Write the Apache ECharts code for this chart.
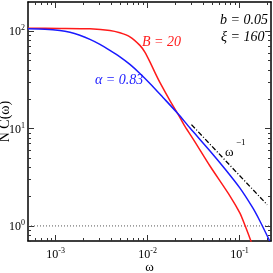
<!DOCTYPE html>
<html><head><meta charset="utf-8">
<script src="https://cdn.jsdelivr.net/npm/echarts@6/dist/echarts.min.js"></script>
<style>html,body{margin:0;padding:0;background:#fff}#c{width:273px;height:273px}</style>
</head><body><div id="c"></div>
<script>
// ---- data ----
const redOmega  = [5e-4, 1.11e-3, 2.36e-3, 3.89e-3, 5.0e-3, 6.42e-3, 8.25e-3, 9.37e-3, 1.06e-2, 1.20e-2, 1.36e-2, 1.75e-2, 2.25e-2, 2.54e-2, 3.26e-2, 4.75e-2, 7.85e-2, 0.1007, 0.1143, 0.1345];
const redValue  = [107.4, 107, 106, 102, 96.5, 87.8, 71.7, 60.8, 48.5, 37.8, 29.8, 19.4, 13.0, 10.6, 7.35, 4.15, 2.04, 1.36, 1.02, 0.68];
const blueOmega = [5e-4, 7.65e-4, 1.11e-3, 1.43e-3, 1.83e-3, 2.36e-3, 3.03e-3, 3.89e-3, 5.0e-3, 6.42e-3, 8.25e-3, 1.06e-2, 1.47e-2, 2.13e-2, 2.88e-2, 4.75e-2, 6.92e-2, 0.1007, 0.1395, 0.166, 0.213];
const blueValue = [106, 105, 102, 97.7, 91, 82.7, 73.5, 63.7, 54.6, 45.7, 36.9, 29.1, 20.9, 14.3, 10.2, 5.93, 3.87, 2.46, 1.53, 1.13, 0.70];
const guideOmega = [0.03, 0.2];
const guideValue = [11.0, 1.65];
const unitOmega = [5e-4, 0.22];
const unitValue = [1, 1];
const xMajorTicks = [1e-3, 1e-2, 1e-1];
const xMinorTicks = [6e-4,7e-4,8e-4,9e-4,2e-3,3e-3,4e-3,5e-3,6e-3,7e-3,8e-3,9e-3,2e-2,3e-2,4e-2,5e-2,6e-2,7e-2,8e-2,9e-2,0.2];
const yMajorTicks = [1, 10, 100];
const yMinorTicks = [0.7,0.8,0.9,2,3,4,5,6,7,8,9,20,30,40,50,60,70,80,90];
const xRange = [5e-4, 0.22];
const yRange = [0.7, 200];

const zip = (a, b) => a.map((v, i) => [v, b[i]]);
const FONT = 'Liberation Serif';
const supFmt = v => '{n|10}{s|' + Math.round(Math.log10(v)) + '}';
const rich = {
  n: {fontFamily: FONT, fontSize: 12, color: '#000', verticalAlign: 'bottom'},
  s: {fontFamily: FONT, fontSize: 8, color: '#000', verticalAlign: 'bottom', padding: [0, 0, 6, 0]}
};
function xAx(pos, ticks, len, labels, line) {
  return {type: 'log', logBase: 10, position: pos, min: xRange[0], max: xRange[1], gridIndex: 0,
    axisLine: {show: line, lineStyle: {color: '#000', width: 1.5}},
    axisTick: {show: true, inside: true, length: len, customValues: ticks, lineStyle: {color: '#333', width: 1}},
    axisLabel: labels ? {show: true, customValues: xMajorTicks, formatter: supFmt, rich: rich, margin: 6} : {show: false},
    splitLine: {show: false}, minorTick: {show: false}};
}
function yAx(pos, ticks, len, labels, line) {
  return {type: 'log', logBase: 10, position: pos, min: yRange[0], max: yRange[1], gridIndex: 0,
    axisLine: {show: line, lineStyle: {color: '#000', width: 1.5}},
    axisTick: {show: true, inside: true, length: len, customValues: ticks, lineStyle: {color: '#333', width: 1}},
    axisLabel: labels ? {show: true, customValues: yMajorTicks, formatter: supFmt, rich: rich, margin: 3} : {show: false},
    splitLine: {show: false}, minorTick: {show: false}};
}
const xs = [xAx('bottom', xMajorTicks, 6, true, true), xAx('bottom', xMinorTicks, 3, false, false),
            xAx('top', xMajorTicks, 6, false, true), xAx('top', xMinorTicks, 3, false, false)];
xs[0].name = 'ω'; xs[0].nameLocation = 'middle'; xs[0].nameGap = 20; xs[0].nameMoveOverlap = false;
xs[0].nameTextStyle = {fontFamily: FONT, fontSize: 13, color: '#000'};
const ys = [yAx('left', yMajorTicks, 6, true, true), yAx('left', yMinorTicks, 3, false, false),
            yAx('right', yMajorTicks, 6, false, true), yAx('right', yMinorTicks, 3, false, false)];
ys[0].name = 'N C(ω)'; ys[0].nameLocation = 'middle'; ys[0].nameGap = 16; ys[0].nameRotate = 90;
ys[0].nameMoveOverlap = false;
ys[0].nameTextStyle = {fontFamily: FONT, fontSize: 14, color: '#000'};

const chart = echarts.init(document.getElementById('c'), null, {renderer: 'canvas'});
chart.setOption({
  animation: false,
  grid: {left: 28, top: 2, right: 2, bottom: 32, containLabel: false, outerBoundsMode: 'none'},
  xAxis: xs,
  yAxis: ys,
  series: [
    {type: 'line', data: zip(unitOmega, unitValue), showSymbol: false, silent: true,
     lineStyle: {color: '#555', width: 1, type: [1, 2]}},
    {type: 'line', data: zip(redOmega, redValue), showSymbol: false, smooth: 0.25, clip: true,
     lineStyle: {color: '#ff1a1a', width: 1.5}},
    {type: 'line', data: zip(blueOmega, blueValue), showSymbol: false, smooth: 0.25, clip: true,
     lineStyle: {color: '#1a1aff', width: 1.5}},
    {type: 'line', data: zip(guideOmega, guideValue), showSymbol: false,
     lineStyle: {color: '#000', width: 1.3, type: [5, 2, 1, 2]}}
  ],
  graphic: [
    {type: 'text', left: 142, top: 35, style: {text: 'B = 20', font: 'italic 14px "Liberation Serif"', fill: '#ff1a1a'}},
    {type: 'text', left: 95, top: 73, style: {text: 'α = 0.83', font: 'italic 14px "Liberation Serif"', fill: '#1a1aff'}},
    {type: 'text', left: 220, top: 13, style: {text: 'b = 0.05', font: 'italic 14px "Liberation Serif"', fill: '#000'}},
    {type: 'text', left: 221, top: 30, style: {text: 'ξ = 160', font: 'italic 14px "Liberation Serif"', fill: '#000'}},
    {type: 'text', left: 225, top: 146, style: {text: 'ω', font: '13px "Liberation Serif"', fill: '#000'}},
    {type: 'text', left: 236, top: 138, style: {text: '−1', font: '9px "Liberation Serif"', fill: '#000'}}
  ]
});
</script></body></html>
